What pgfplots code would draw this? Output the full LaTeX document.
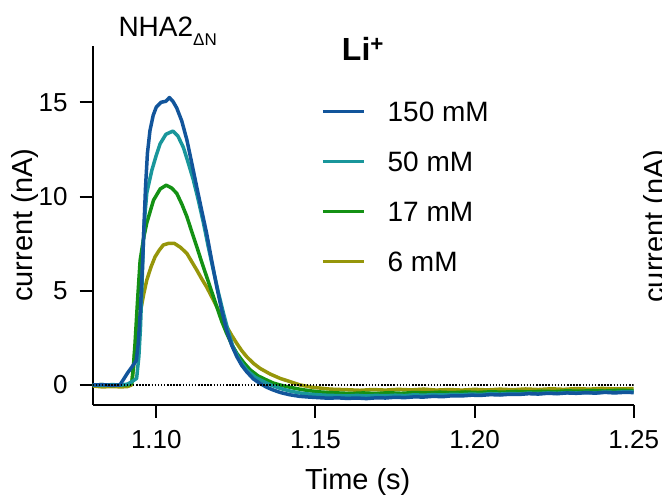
\documentclass[border=0pt]{standalone}
\usepackage{fontspec}
\setmainfont{Liberation Sans}
\usepackage{pgfplots}
\usepackage{pgfplotstable}
\pgfplotsset{compat=1.18}
\definecolor{cblue}{RGB}{18,85,155}
\definecolor{cteal}{RGB}{25,150,155}
\definecolor{cgreen}{RGB}{20,145,20}
\definecolor{colive}{RGB}{150,150,10}

\pgfplotstableread{
t v
1.0800 0.00
1.0830 0.02
1.0860 -0.02
1.0885 0.00
1.0895 0.25
1.0910 0.65
1.0925 1.00
1.0937 1.30
1.0943 2.20
1.0950 4.00
1.0957 6.60
1.0962 8.80
1.0966 10.50
1.0972 12.30
1.0980 13.50
1.0990 14.30
1.1000 14.75
1.1015 15.00
1.1030 15.05
1.1041 15.25
1.1052 15.05
1.1064 14.70
1.1080 14.00
1.1096 13.00
1.1111 11.80
1.1127 10.50
1.1142 9.30
1.1158 8.05
1.1174 6.60
1.1190 5.20
1.1205 4.00
1.1221 2.90
1.1237 2.10
1.1253 1.50
1.1268 1.05
1.1284 0.70
1.1305 0.32
1.1326 0.08
1.1347 -0.12
1.1368 -0.27
1.1390 -0.40
1.1420 -0.52
1.1450 -0.60
1.1480 -0.64
1.1510 -0.67
1.1540 -0.70
1.1570 -0.68
1.1600 -0.71
1.1630 -0.69
1.1660 -0.72
1.1690 -0.68
1.1720 -0.69
1.1750 -0.65
1.1780 -0.67
1.1810 -0.63
1.1840 -0.64
1.1870 -0.60
1.1900 -0.62
1.1930 -0.57
1.1960 -0.58
1.1990 -0.54
1.2020 -0.55
1.2050 -0.51
1.2080 -0.53
1.2110 -0.49
1.2140 -0.50
1.2170 -0.46
1.2200 -0.48
1.2230 -0.44
1.2260 -0.46
1.2290 -0.42
1.2320 -0.44
1.2350 -0.41
1.2380 -0.43
1.2410 -0.39
1.2440 -0.42
1.2470 -0.39
1.2500 -0.40
}\tblue

\pgfplotstableread{
t v
1.0800 0.00
1.0830 -0.02
1.0860 0.02
1.0890 0.00
1.0910 0.05
1.0925 0.20
1.0938 0.35
1.0945 1.50
1.0950 3.00
1.0954 4.86
1.0961 8.40
1.0970 10.20
1.0986 11.40
1.1000 12.20
1.1012 12.80
1.1030 13.30
1.1052 13.47
1.1068 13.20
1.1085 12.60
1.1100 11.80
1.1116 10.90
1.1132 9.80
1.1148 8.60
1.1163 7.35
1.1179 6.10
1.1195 4.90
1.1211 3.80
1.1226 2.85
1.1241 2.00
1.1262 1.30
1.1284 0.80
1.1310 0.42
1.1337 0.18
1.1363 -0.02
1.1389 -0.18
1.1420 -0.32
1.1450 -0.42
1.1480 -0.48
1.1510 -0.52
1.1540 -0.55
1.1570 -0.56
1.1600 -0.58
1.1630 -0.55
1.1660 -0.58
1.1690 -0.55
1.1720 -0.57
1.1750 -0.54
1.1780 -0.56
1.1810 -0.52
1.1840 -0.54
1.1870 -0.51
1.1900 -0.53
1.1930 -0.49
1.1960 -0.51
1.1990 -0.48
1.2020 -0.50
1.2050 -0.46
1.2080 -0.48
1.2110 -0.45
1.2140 -0.47
1.2170 -0.43
1.2200 -0.45
1.2230 -0.42
1.2260 -0.44
1.2290 -0.40
1.2320 -0.42
1.2350 -0.39
1.2380 -0.41
1.2410 -0.37
1.2440 -0.39
1.2470 -0.36
1.2500 -0.37
}\tteal

\pgfplotstableread{
t v
1.0800 0.00
1.0830 0.02
1.0860 -0.02
1.0890 0.00
1.0915 0.02
1.0923 0.10
1.0928 1.00
1.0933 2.20
1.0941 4.50
1.0949 6.60
1.0960 7.80
1.0970 8.60
1.0991 9.80
1.1012 10.40
1.1031 10.60
1.1048 10.45
1.1064 10.17
1.1080 9.60
1.1096 8.93
1.1111 8.15
1.1127 7.34
1.1142 6.55
1.1158 5.75
1.1174 4.95
1.1190 4.15
1.1205 3.40
1.1221 2.74
1.1237 2.15
1.1253 1.68
1.1274 1.20
1.1295 0.80
1.1320 0.48
1.1346 0.27
1.1368 0.10
1.1389 0.00
1.1420 -0.12
1.1450 -0.22
1.1480 -0.30
1.1510 -0.36
1.1540 -0.40
1.1570 -0.42
1.1610 -0.45
1.1650 -0.42
1.1690 -0.45
1.1730 -0.41
1.1770 -0.44
1.1810 -0.40
1.1850 -0.42
1.1890 -0.38
1.1930 -0.41
1.1970 -0.37
1.2010 -0.40
1.2050 -0.36
1.2090 -0.38
1.2130 -0.34
1.2170 -0.37
1.2210 -0.33
1.2250 -0.35
1.2290 -0.31
1.2330 -0.33
1.2370 -0.30
1.2410 -0.32
1.2450 -0.28
1.2500 -0.30
}\tgreen

\pgfplotstableread{
t v
1.0800 -0.05
1.0830 -0.10
1.0860 -0.08
1.0890 -0.10
1.0910 -0.08
1.0922 0.00
1.0928 0.90
1.0933 1.86
1.0941 2.90
1.0949 3.80
1.0960 4.80
1.0970 5.57
1.0983 6.25
1.0996 6.80
1.1009 7.15
1.1022 7.43
1.1040 7.52
1.1056 7.52
1.1076 7.30
1.1096 6.98
1.1111 6.55
1.1127 6.10
1.1142 5.65
1.1158 5.20
1.1174 4.68
1.1190 4.15
1.1205 3.62
1.1221 3.10
1.1237 2.63
1.1253 2.20
1.1268 1.83
1.1284 1.50
1.1305 1.15
1.1326 0.88
1.1358 0.58
1.1389 0.35
1.1420 0.18
1.1452 0.00
1.1490 -0.12
1.1547 -0.22
1.1600 -0.25
1.1640 -0.28
1.1680 -0.24
1.1720 -0.27
1.1760 -0.23
1.1800 -0.26
1.1840 -0.22
1.1880 -0.27
1.1920 -0.24
1.1960 -0.27
1.2000 -0.23
1.2040 -0.26
1.2080 -0.22
1.2120 -0.25
1.2160 -0.21
1.2200 -0.24
1.2240 -0.20
1.2280 -0.23
1.2320 -0.19
1.2360 -0.22
1.2400 -0.18
1.2440 -0.21
1.2500 -0.19
}\tolive

\begin{document}
\begin{tikzpicture}
\useasboundingbox (-92.7pt,-95pt) rectangle (569.3pt,405pt);
\begin{axis}[
  at={(0pt,0pt)}, anchor=south west,
  scale only axis, width=541pt, height=359.3pt,
  xmin=1.08, xmax=1.25, ymin=-1.06, ymax=18,
  axis lines*=left,
  axis line style={line width=2pt, -},
  tick align=outside,
  major tick length=13pt,
  tick style={line width=2pt, black},
  xtick={1.10,1.15,1.20,1.25},
  ytick={0,5,10,15},
  minor tick num=0,
  /pgf/number format/assume math mode=true,
  ticklabel style={font=\fontsize{26}{26}\selectfont},
  xticklabel style={/pgf/number format/fixed, /pgf/number format/fixed zerofill, /pgf/number format/precision=2, inner sep=0pt, yshift=-12pt},
  yticklabel style={inner sep=0pt, xshift=-12pt},
  xlabel={Time (s)},
  ylabel={current (nA)},
  label style={font=\fontsize{29}{29}\selectfont},
  xlabel style={at={(axis description cs:0.49,-0.214)}, anchor=center},
  ylabel style={at={(axis description cs:-0.125,0.5)}, anchor=center},
  legend style={draw=none, fill=none, at={(axis description cs:0.4164,0.8514)}, anchor=north west,
    font=\fontsize{28}{28}\selectfont, row sep=30pt,
    nodes={inner sep=0pt, text height=20pt, text depth=0pt}},
  legend cell align=left,
  legend image code/.code={\draw[#1, line width=3.5pt] (0pt,0pt) -- (41pt,0pt); \path (63pt,0pt);},
  every axis plot/.append style={line width=3.5pt, line join=round},
]
\addlegendimage{cblue}\addlegendentry{150 mM}
\addlegendimage{cteal}\addlegendentry{50 mM}
\addlegendimage{cgreen}\addlegendentry{17 mM}
\addlegendimage{colive}\addlegendentry{6 mM}
\addplot[colive, forget plot] table[x=t, y=v] {\tolive};
\addplot[cgreen, forget plot] table[x=t, y=v] {\tgreen};
\addplot[cteal, forget plot] table[x=t, y=v] {\tteal};
\addplot[cblue, forget plot] table[x=t, y=v] {\tblue};
\addplot[black, line width=1.6pt, dash pattern=on 1.5pt off 1.6pt, forget plot] coordinates {(1.08,0) (1.25,0)};
\end{axis}
\node[font=\bfseries\fontsize{32}{32}\selectfont] at (270.3pt,356pt) {Li\textsuperscript{+}};
\node[anchor=base west, font=\fontsize{28}{28}\selectfont] at (22.3pt,368pt) {NHA2\raisebox{-0.3em}{\fontsize{17}{17}\selectfont ΔN}};
\node[rotate=90, anchor=base, font=\fontsize{29}{29}\selectfont] at (571.3pt,179pt) {current (nA)};
\end{tikzpicture}
\end{document}
